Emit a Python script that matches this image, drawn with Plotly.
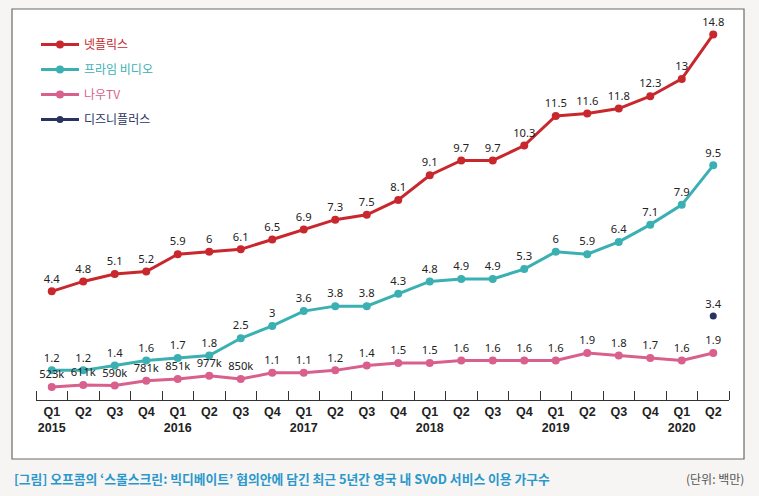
import plotly.graph_objects as go

# 분기 라벨
quarters = ["Q1<br>2015", "Q2", "Q3", "Q4",
            "Q1<br>2016", "Q2", "Q3", "Q4",
            "Q1<br>2017", "Q2", "Q3", "Q4",
            "Q1<br>2018", "Q2", "Q3", "Q4",
            "Q1<br>2019", "Q2", "Q3", "Q4",
            "Q1<br>2020", "Q2"]

netflix = [4.4, 4.8, 5.1, 5.2, 5.9, 6, 6.1, 6.5, 6.9, 7.3, 7.5, 8.1,
           9.1, 9.7, 9.7, 10.3, 11.5, 11.6, 11.8, 12.3, 13, 14.8]
prime = [1.2, 1.2, 1.4, 1.6, 1.7, 1.8, 2.5, 3, 3.6, 3.8, 3.8, 4.3,
         4.8, 4.9, 4.9, 5.3, 6, 5.9, 6.4, 7.1, 7.9, 9.5]
nowtv = [0.523, 0.611, 0.590, 0.781, 0.851, 0.977, 0.850, 1.1, 1.1, 1.2, 1.4, 1.5,
         1.5, 1.6, 1.6, 1.6, 1.6, 1.9, 1.8, 1.7, 1.6, 1.9]
nowtv_labels = ["523k", "611k", "590k", "781k", "851k", "977k", "850k", "1.1", "1.1", "1.2", "1.4", "1.5",
                "1.5", "1.6", "1.6", "1.6", "1.6", "1.9", "1.8", "1.7", "1.6", "1.9"]
disney_q = [21]
disney = [3.4]

x = list(range(len(quarters)))

def fmt(v):
    return ("%g" % v)

lbl_font = dict(family="Noto Sans", size=11.2, color="#222222")

fig = go.Figure()

fig.add_trace(go.Scatter(x=x, y=netflix, mode="lines+markers+text", name="<span style='color:#c8282d'>넷플릭스</span>",
                         line=dict(color="#c8282d", width=3), marker=dict(size=8, color="#c8282d"),
                         text=[fmt(v) for v in netflix], textposition="top center", textfont=lbl_font,
                         cliponaxis=False, legendgroup="a"))
fig.add_trace(go.Scatter(x=x, y=prime, mode="lines+markers+text", name="<span style='color:#3bb0b3'>프라임 비디오</span>",
                         line=dict(color="#3bb0b3", width=3), marker=dict(size=8, color="#3bb0b3"),
                         text=[fmt(v) for v in prime], textposition="top center", textfont=lbl_font,
                         cliponaxis=False, legendgroup="b"))
fig.add_trace(go.Scatter(x=x, y=nowtv, mode="lines+markers+text", name="<span style='color:#d9608c'>나우TV</span>",
                         line=dict(color="#d9608c", width=3), marker=dict(size=8, color="#d9608c"),
                         text=nowtv_labels, textposition="top center", textfont=lbl_font,
                         cliponaxis=False, legendgroup="c"))
fig.add_trace(go.Scatter(x=disney_q, y=disney, mode="lines+markers+text", name="<span style='color:#28335f'>디즈니플러스</span>",
                         line=dict(color="#28335f", width=3), marker=dict(size=7, color="#28335f"),
                         text=[fmt(v) for v in disney], textposition="top center", textfont=lbl_font,
                         cliponaxis=False, legendgroup="d"))

# 패널 (흰 배경 + 테두리)
fig.add_shape(type="rect", xref="paper", yref="paper",
              x0=-24/693, x1=(744-36)/693, y0=-(459-400)/380, y1=(400-9)/380,
              fillcolor="white", line=dict(color="#6a6a6a", width=1.2), layer="below")

fig.add_annotation(xref="paper", yref="paper", x=-24/693, y=-(478-400)/380, xanchor="left", yanchor="middle",
                   text="<b>[그림] 오프콤의 ‘스몰스크린: 빅디베이트’ 협의안에 담긴 최근 5년간 영국 내 SVoD 서비스 이용 가구수</b>",
                   showarrow=False, font=dict(family="Noto Sans CJK KR", size=12.8, color="#2b98cc"))
fig.add_annotation(xref="paper", yref="paper", x=(746-36)/693, y=-(478-400)/380, xanchor="right", yanchor="middle",
                   text="(단위: 백만)", showarrow=False,
                   font=dict(family="Noto Sans CJK KR", size=12, color="#555555"))

fig.update_xaxes(range=[-0.5, 21.5], tickvals=x, ticktext=["<b>%s</b>" % q for q in quarters],
                 tickfont=dict(family="Liberation Sans", size=12.5, color="#222222"),
                 ticks="", showline=True, linecolor="#333333", linewidth=1.2, showgrid=False, zeroline=False,
                 automargin=False,
                 minor=dict(tickvals=[i - 0.5 for i in range(23)], ticks="inside", ticklen=9,
                            tickcolor="#333333", tickwidth=1, showgrid=False))
fig.update_yaxes(range=[0, 380/24.7], visible=False, showgrid=False, zeroline=False)

fig.update_layout(
    width=759, height=496,
    margin=dict(l=36, r=30, t=20, b=96),
    paper_bgcolor="#f6f5f3", plot_bgcolor="rgba(0,0,0,0)",
    showlegend=True,
    legend=dict(x=0.0, y=(400-30)/380, xanchor="left", yanchor="top", itemwidth=38,
                traceorder="grouped", tracegroupgap=6, bgcolor="rgba(0,0,0,0)",
                font=dict(family="Noto Sans CJK KR", size=12)),
)

# 페이지 기본 여백 제거
fig.write_html("out.html", config={"displayModeBar": False},
               post_script="document.body.style.margin='0';")
